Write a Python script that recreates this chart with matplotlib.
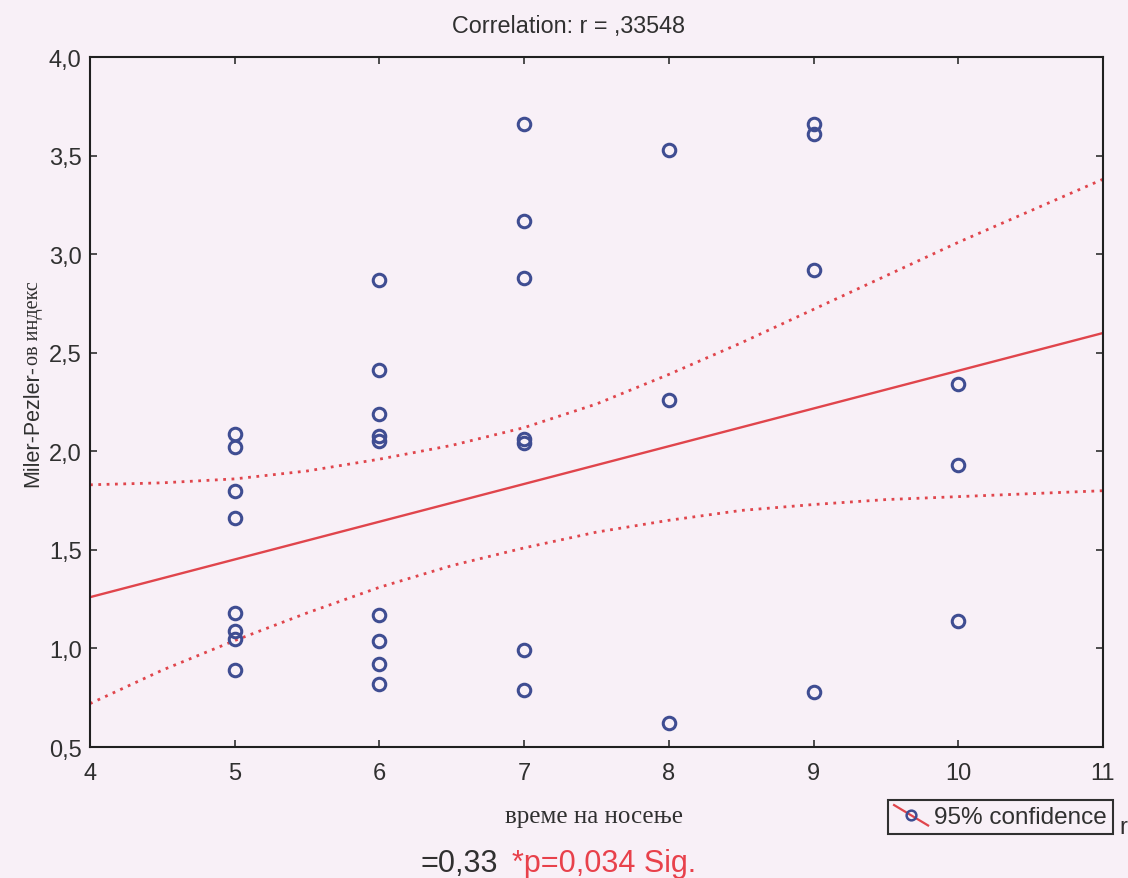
import numpy as np
import matplotlib.pyplot as plt
from matplotlib.lines import Line2D
from matplotlib.legend_handler import HandlerBase

x_groups = [5, 6, 7, 8, 9, 10]
y_groups = [
    [2.09, 2.02, 1.80, 1.66, 1.18, 1.09, 1.05, 0.89],
    [2.87, 2.41, 2.19, 2.08, 2.05, 1.17, 1.04, 0.92, 0.82],
    [3.66, 3.17, 2.88, 2.06, 2.04, 0.99, 0.79],
    [3.53, 2.26, 0.62],
    [3.66, 3.61, 2.92, 0.78],
    [2.34, 1.93, 1.14],
]

# regression line and 95% confidence band, read every half unit
fit_x = [4, 11]
fit_y = [1.26, 2.60]
band_x = [4, 4.5, 5, 5.5, 6, 6.5, 7, 7.5, 8, 8.5, 9, 9.5, 10, 10.5, 11]
band_upper = [1.83, 1.84, 1.86, 1.90, 1.96, 2.03, 2.12, 2.24, 2.39, 2.55,
              2.72, 2.89, 3.06, 3.22, 3.38]
band_lower = [0.72, 0.89, 1.04, 1.18, 1.31, 1.42, 1.51, 1.59, 1.65, 1.70,
              1.73, 1.755, 1.77, 1.785, 1.80]

x_ticks = [4, 5, 6, 7, 8, 9, 10, 11]
y_ticks = [0.5, 1.0, 1.5, 2.0, 2.5, 3.0, 3.5, 4.0]
y_tick_labels = ["0,5", "1,0", "1,5", "2,0", "2,5", "3,0", "3,5", "4,0"]

bg = "#f8f0f7"
red = "#e0454c"
blue = "#3f4d92"
ink = "#303030"

plt.rcParams["font.family"] = ["Liberation Sans", "DejaVu Sans"]

fig = plt.figure(figsize=(11.28, 8.79), dpi=100, facecolor=bg)
W, H = 1128, 879
ax = fig.add_axes([90 / W, 1 - 748 / H, (1103 - 90) / W, (748 - 58) / H])
ax.set_facecolor(bg)

xs = np.concatenate([[x] * len(g) for x, g in zip(x_groups, y_groups)])
ys = np.concatenate(y_groups)

ax.plot(fit_x, fit_y, color=red, lw=1.7, zorder=2)
ax.plot(band_x, band_upper, color=red, lw=2.0, ls=(0, (1, 2.0)), zorder=2)
ax.plot(band_x, band_lower, color=red, lw=2.0, ls=(0, (1, 2.0)), zorder=2)
ax.plot(xs, ys, "o", mfc="none", mec=blue, mew=2.2, ms=9, zorder=3)

ax.set_xlim(4, 11)
ax.set_ylim(0.5, 4.0)
ax.set_xticks(x_ticks)
ax.set_yticks(y_ticks)
ax.set_yticklabels(y_tick_labels)
ax.tick_params(direction="in", length=5, width=1.2, top=True, right=True,
               labelsize=17, colors=ink)
ax.tick_params(axis="x", pad=11)
ax.tick_params(axis="y", pad=6)
for s in ax.spines.values():
    s.set_linewidth(1.5)
    s.set_color("#202020")

fig.text(569 / W, 1 - 33 / H, "Correlation: r = ,33548", ha="center",
         va="baseline", fontsize=16.8, color=ink)
fig.text(594 / W, 1 - 817 / H, "време на носење", ha="center", va="center",
         fontsize=18, color=ink, family="Liberation Serif")

# y label: sans part, then serif part continuing upward
y0 = 1 - 487 / H
t1 = fig.text(38 / W, y0, "Miler-Pezler-", rotation=90, rotation_mode="anchor",
              ha="left", va="baseline", fontsize=15.5, color=ink)
r = fig.canvas.get_renderer()
h1 = t1.get_window_extent(r).height
fig.text(38 / W, y0 + h1 / H, "ов индекс", rotation=90, rotation_mode="anchor",
         ha="left", va="baseline", fontsize=14.5, color=ink,
         family="Liberation Serif")


class DiagHandler(HandlerBase):
    def create_artists(self, legend, orig_handle, xdescent, ydescent,
                       width, height, fontsize, trans):
        x0, x1 = -xdescent, -xdescent + width
        yb, yt = -ydescent - 0.15 * height, -ydescent + 1.05 * height
        ln = Line2D([x0, x1], [yt, yb], color=red, lw=1.6, transform=trans)
        mk = Line2D([(x0 + x1) / 2], [(yt + yb) / 2], marker="o", ls="",
                    mfc="none", mec=blue, mew=1.8, ms=7, transform=trans)
        return [ln, mk]


leg = fig.legend(handles=[Line2D([], [])], labels=["95% confidence"],
                 handler_map={Line2D: DiagHandler()}, loc="lower left",
                 bbox_to_anchor=(888 / W, 1 - 835 / H), frameon=True,
                 fancybox=False, edgecolor="#303030", facecolor=bg,
                 framealpha=1, fontsize=17.5, borderpad=0.25,
                 handlelength=1.4, handletextpad=0.25, borderaxespad=0)
leg.get_frame().set_linewidth(1.5)
for t in leg.get_texts():
    t.set_color(ink)

fig.text(1119 / W, 1 - 834 / H, "r", ha="left", va="baseline", fontsize=17,
         color=ink)
fig.text(420 / W, 1 - 872 / H, "=0,33", ha="left", va="baseline",
         fontsize=22, color=ink)
fig.text(512 / W, 1 - 872 / H, "*p=0,034 Sig.", ha="left", va="baseline",
         fontsize=22, color="#e8414b")

fig.savefig("out.png", dpi=100, facecolor=bg)
